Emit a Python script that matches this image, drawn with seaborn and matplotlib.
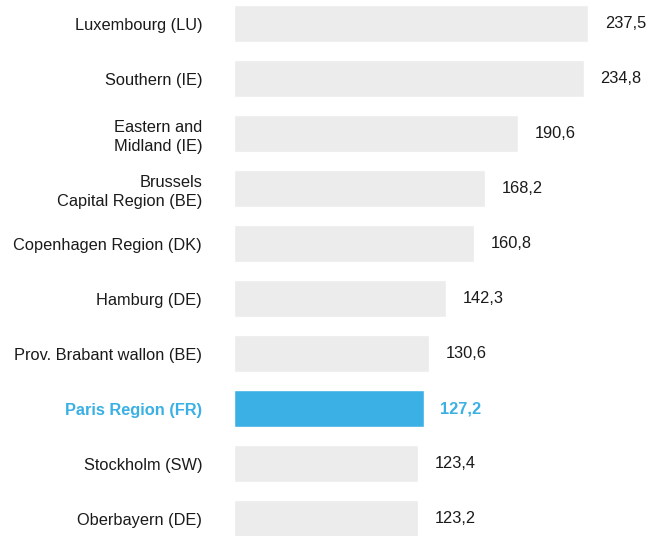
import pandas as pd
import matplotlib.pyplot as plt
import seaborn as sns

# Data
regions = ['Luxembourg (LU)', 'Southern (IE)', 'Eastern and\nMidland (IE)',
           'Brussels\nCapital Region (BE)', 'Copenhagen Region (DK)',
           'Hamburg (DE)', 'Prov. Brabant wallon (BE)', 'Paris Region (FR)',
           'Stockholm (SW)', 'Oberbayern (DE)']
values = [237.5, 234.8, 190.6, 168.2, 160.8, 142.3, 130.6, 127.2, 123.4, 123.2]
highlight = 'Paris Region (FR)'

df = pd.DataFrame({'Region': regions, 'Value': values})

grey = '#ececec'
blue = '#3bb0e4'
text_col = '#1a1a1a'

sns.set_theme(style="white")
plt.rcParams['font.family'] = ['Liberation Sans', 'DejaVu Sans']

fig = plt.figure(figsize=(6.61, 5.36), dpi=100)
ax = fig.add_axes([234 / 661, 0, 1 - 234 / 661, 1])

palette = {r: (blue if r == highlight else grey) for r in regions}
sns.barplot(data=df, y='Region', x='Value', hue='Region', palette=palette,
            orient='h', width=0.67, legend=False, ax=ax, saturation=1)

ax.set_xlim(0, 286.5)
ax.set_ylim(9.31, -0.427)
ax.set_xlabel('')
ax.set_ylabel('')
ax.set_xticks([])
sns.despine(ax=ax, left=True, bottom=True)
ax.tick_params(axis='y', length=0, pad=23, labelsize=11.8)

for lbl in ax.get_yticklabels():
    lbl.set_linespacing(1.35)
    if lbl.get_text() == highlight:
        lbl.set_color(blue)
        lbl.set_fontweight('bold')
    else:
        lbl.set_color(text_col)

for i, v in enumerate(values):
    is_hl = regions[i] == highlight
    ax.annotate(f'{v:.1f}'.replace('.', ','), xy=(v, i), xytext=(12, 0),
                textcoords='offset points', va='center', ha='left',
                fontsize=11.8, color=blue if is_hl else text_col,
                fontweight='bold' if is_hl else 'normal')

plt.savefig('out.png', dpi=100)
